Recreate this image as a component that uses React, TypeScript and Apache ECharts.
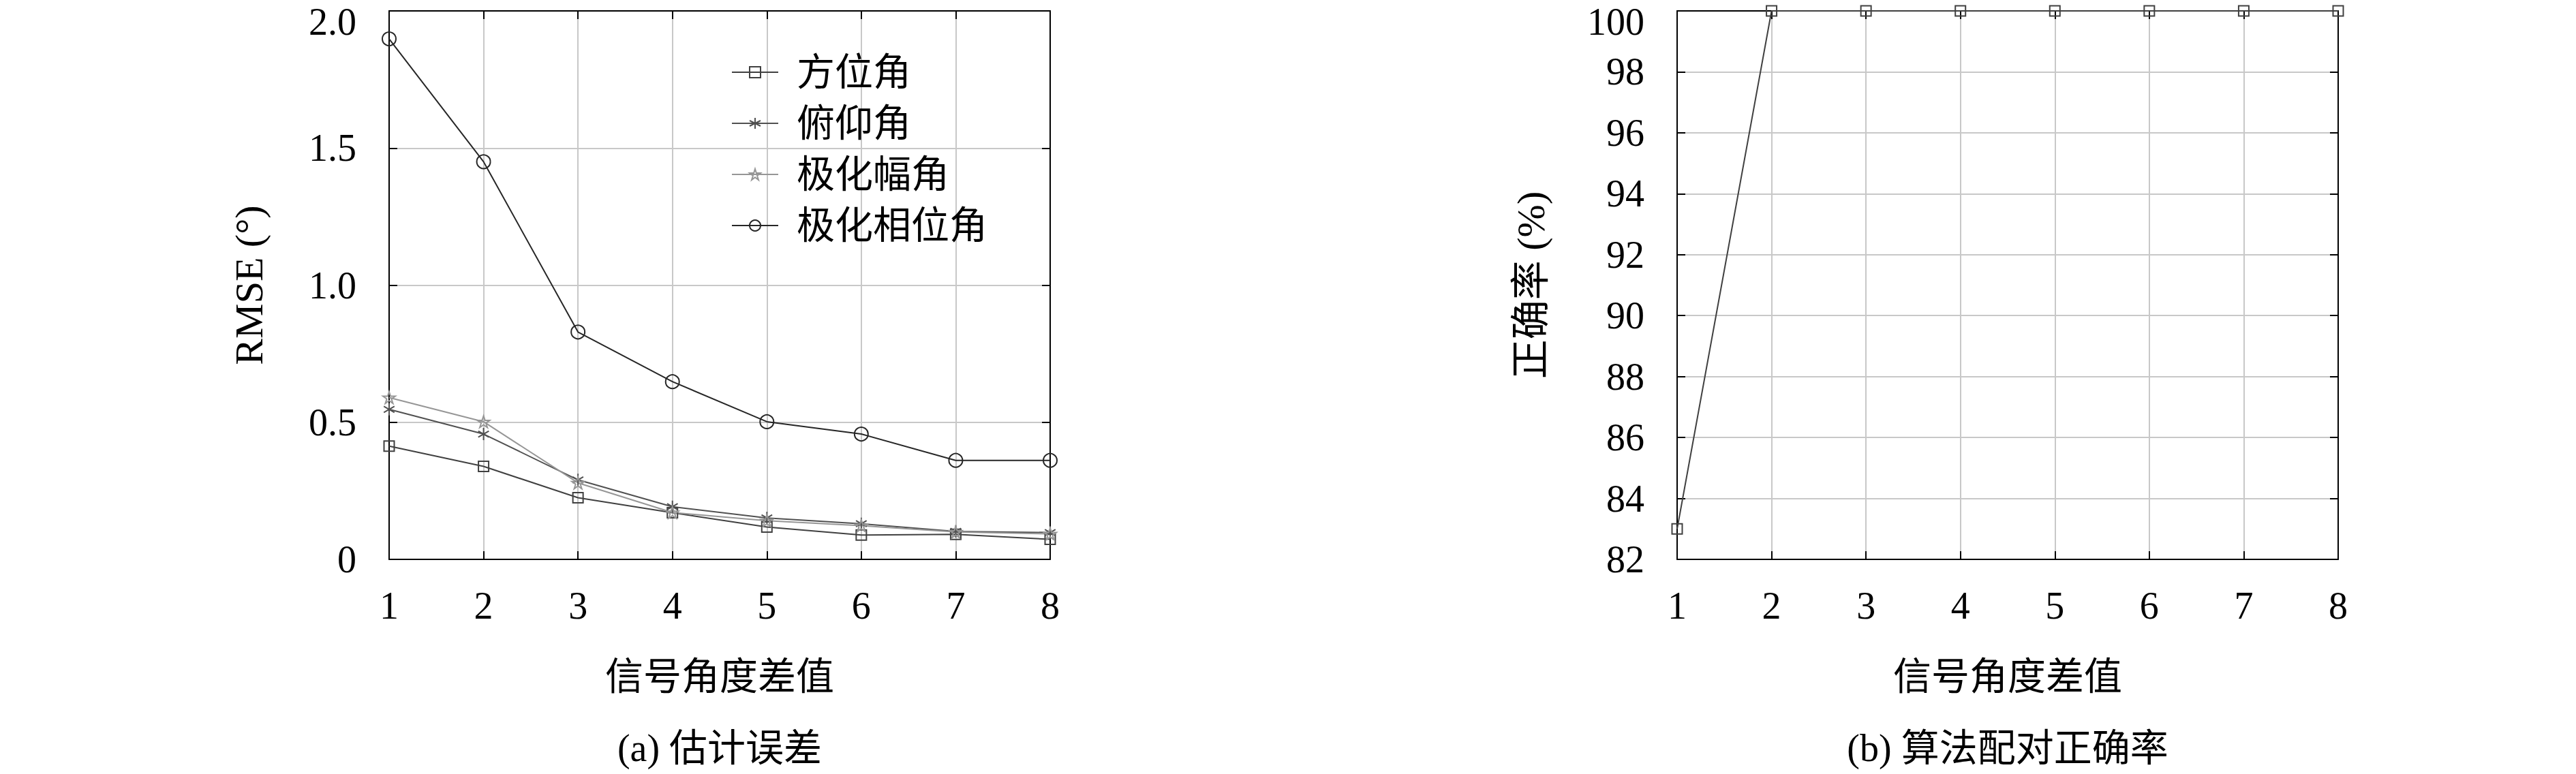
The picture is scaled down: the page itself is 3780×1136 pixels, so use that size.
import React, { useEffect, useRef } from 'react';
import * as echarts from 'echarts';

// ---------- data ----------
const xTicks = [1, 2, 3, 4, 5, 6, 7, 8];
const seriesNames = ['方位角', '俯仰角', '极化幅角', '极化相位角'];
const azimuthRmse = [0.413, 0.339, 0.225, 0.170, 0.118, 0.089, 0.091, 0.073];
const elevationRmse = [0.547, 0.457, 0.290, 0.192, 0.151, 0.130, 0.102, 0.098];
const polAmpRmse = [0.590, 0.502, 0.279, 0.171, 0.141, 0.123, 0.100, 0.093];
const polPhaseRmse = [1.898, 1.450, 0.829, 0.648, 0.502, 0.457, 0.361, 0.361];
const accuracy = [83.0, 100, 100, 100, 100, 100, 100, 100];
const rmseTicks = [0, 0.5, 1.0, 1.5, 2.0];
const accTicks = [82, 84, 86, 88, 90, 92, 94, 96, 98, 100];

const xName = '信号角度差值';
const yNameA = 'RMSE (°)';
const yNameB = '正确率 (%)';
const captionA = '(a) 估计误差';
const captionB = '(b) 算法配对正确率';

// ---------- styles ----------
const SERIF = "'Liberation Serif', 'Noto Sans CJK SC', serif";
const ASTERISK = 'path://M0,-10L0,10M-8.66,-5L8.66,5M-8.66,5L8.66,-5';
const STAR =
  'path://M0,-1L0.225,-0.309L0.951,-0.309L0.363,0.118L0.588,0.809L0,0.382L-0.588,0.809L-0.363,0.118L-0.951,-0.309L-0.225,-0.309Z';

const GRID_A = { left: 571, top: 16, width: 970, height: 805 };
const GRID_B = { left: 2461, top: 16, width: 970, height: 805 };

const tickFont = { fontSize: 56, fontFamily: SERIF, color: '#000' };
const nameFont = { fontSize: 56, fontFamily: SERIF, color: '#000' };

function xAxes(gridIndex: number) {
  const base = {
    gridIndex,
    type: 'value',
    min: xTicks[0],
    max: xTicks[xTicks.length - 1],
    interval: 1,
    axisLine: { show: true, onZero: false, lineStyle: { color: '#000', width: 2 } },
    axisTick: { show: true, inside: true, length: 12, lineStyle: { color: '#000', width: 2 } },
  };
  return [
    {
      ...base,
      position: 'bottom',
      axisLabel: { ...tickFont, margin: 40, formatter: (v: number) => String(v) },
      splitLine: { show: true, lineStyle: { color: '#c8c8c8', width: 2 } },
      name: xName,
      nameLocation: 'middle',
      nameGap: 144,
      nameTextStyle: nameFont,
    },
    {
      ...base,
      position: 'top',
      axisLabel: { show: false },
      splitLine: { show: false },
    },
  ];
}

function yAxes(gridIndex: number, ticks: number[], name: string, gap: number, fmt: (v: number) => string) {
  const base = {
    gridIndex,
    type: 'value',
    min: ticks[0],
    max: ticks[ticks.length - 1],
    interval: ticks[1] - ticks[0],
    axisLine: { show: true, onZero: false, lineStyle: { color: '#000', width: 2 } },
    axisTick: { show: true, inside: true, length: 12, lineStyle: { color: '#000', width: 2 } },
  };
  return [
    {
      ...base,
      position: 'left',
      axisLabel: {
        ...tickFont,
        margin: 48,
        lineHeight: 32,
        verticalAlign: 'middle',
        verticalAlignMaxLabel: 'top',
        formatter: fmt,
      },
      splitLine: { show: true, lineStyle: { color: '#c8c8c8', width: 2 } },
      name,
      nameLocation: 'middle',
      nameGap: gap,
      nameTextStyle: { ...nameFont, fontSize: 58 },
    },
    {
      ...base,
      position: 'right',
      axisLabel: { show: false },
      splitLine: { show: false },
    },
  ];
}

function lineSeries(
  name: string,
  values: number[],
  color: string,
  symbol: string,
  symbolSize: number,
  xAxisIndex: number,
  yAxisIndex: number
) {
  return {
    type: 'line',
    name,
    xAxisIndex,
    yAxisIndex,
    data: xTicks.map((x, i) => [x, values[i]]),
    symbol,
    symbolSize,
    symbolKeepAspect: true,
    showAllSymbol: true,
    lineStyle: { color, width: 2 },
    itemStyle: { color: 'rgba(255,255,255,0)', borderColor: color, borderWidth: 2 },
    emphasis: { disabled: true },
  };
}

export default function App() {
  const ref = useRef<HTMLDivElement>(null);

  useEffect(() => {
    document.body.style.margin = '0';
    const chart = echarts.init(ref.current!, undefined, { renderer: 'svg' });
    const option = {
      animation: false,
      backgroundColor: '#fff',
      grid: [GRID_A, GRID_B],
      xAxis: [...xAxes(0), ...xAxes(1)],
      yAxis: [
        ...yAxes(0, rmseTicks, yNameA, 177, (v: number) => (v === 0 ? '0' : v.toFixed(1))),
        ...yAxes(1, accTicks, yNameB, 186, (v: number) => String(v)),
      ],
      legend: {
        data: seriesNames,
        orient: 'vertical',
        left: 1068,
        top: 73,
        itemWidth: 68,
        itemHeight: 20,
        itemGap: 19,
        textStyle: { fontSize: 56, lineHeight: 56, fontFamily: SERIF, color: '#000', padding: [0, 0, 0, 22] },
        selectedMode: false,
      },
      series: [
        lineSeries(seriesNames[0], azimuthRmse, '#404040', 'rect', 15, 0, 0),
        lineSeries(seriesNames[1], elevationRmse, '#505050', ASTERISK, 18, 0, 0),
        lineSeries(seriesNames[2], polAmpRmse, '#969696', STAR, 18, 0, 0),
        lineSeries(seriesNames[3], polPhaseRmse, '#262626', 'circle', 20, 0, 0),
        lineSeries('正确率', accuracy, '#404040', 'rect', 15, 2, 2),
      ],
      graphic: [
        {
          type: 'text',
          x: GRID_A.left + GRID_A.width / 2,
          y: 1098,
          style: { text: captionA, fontSize: 56, fontFamily: SERIF, fill: '#000', align: 'center', verticalAlign: 'middle' },
        },
        {
          type: 'text',
          x: GRID_B.left + GRID_B.width / 2,
          y: 1098,
          style: { text: captionB, fontSize: 56, fontFamily: SERIF, fill: '#000', align: 'center', verticalAlign: 'middle' },
        },
      ],
    };
    chart.setOption(option as any);
    return () => chart.dispose();
  }, []);

  return <div ref={ref} style={{ width: 3780, height: 1136 }} />;
}
